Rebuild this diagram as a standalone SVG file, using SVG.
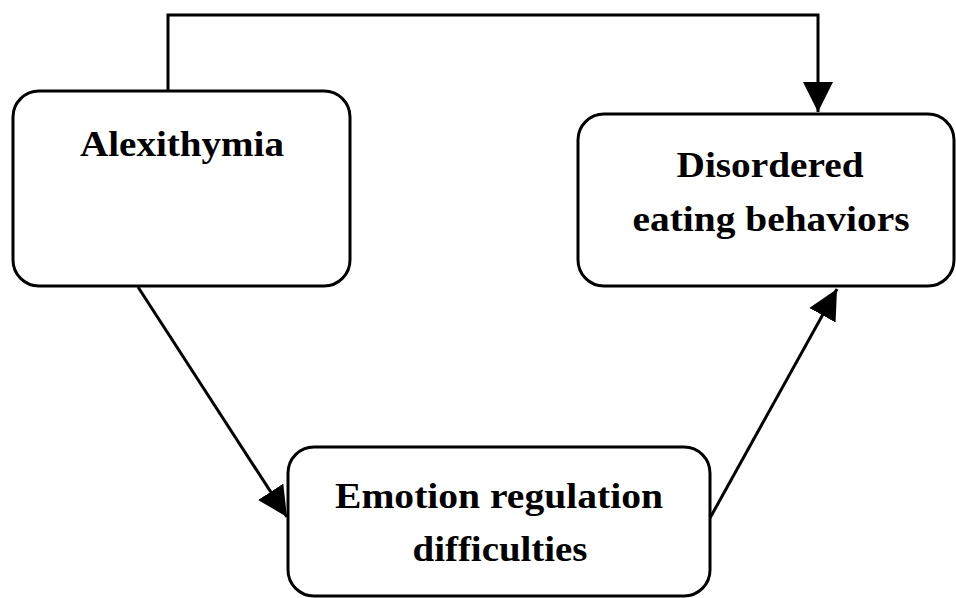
<svg xmlns="http://www.w3.org/2000/svg" width="956" height="598" viewBox="0 0 956 598">
<style>
.box{fill:#fff;stroke:#000;stroke-width:3}
.lbl{font-family:"Liberation Serif","Times New Roman",serif;font-weight:bold;font-size:36px;fill:#000;text-anchor:middle}
.conn{fill:none;stroke:#000;stroke-width:3}
</style>
<defs>
<marker id="ah" markerUnits="userSpaceOnUse" markerWidth="32" markerHeight="32" viewBox="0 0 32 32" refX="30" refY="16" orient="auto">
<path d="M0,1 L30,16 L0,31 z" fill="#000"/>
</marker>
</defs>
<g id="connectors">
<path class="conn" d="M168,91 V15 H818 V112" marker-end="url(#ah)"/>
<path class="conn" d="M138,287 L287,517" marker-end="url(#ah)"/>
<path class="conn" d="M710,518 L837,289" marker-end="url(#ah)"/>
</g>
<g id="alexithymia">
<rect class="box" x="13" y="91" width="337" height="195" rx="26"/>
<text class="lbl" x="182" y="156" textLength="204" lengthAdjust="spacingAndGlyphs">Alexithymia</text>
</g>
<g id="disordered">
<rect class="box" x="578" y="114" width="376" height="172" rx="26"/>
<text class="lbl" x="770" y="177" textLength="187" lengthAdjust="spacingAndGlyphs">Disordered</text>
<text class="lbl" x="771" y="231" textLength="277" lengthAdjust="spacingAndGlyphs">eating behaviors</text>
</g>
<g id="emotion">
<rect class="box" x="288" y="447" width="422" height="149" rx="26"/>
<text class="lbl" x="499" y="508" textLength="328" lengthAdjust="spacingAndGlyphs">Emotion regulation</text>
<text class="lbl" x="500" y="561" textLength="175" lengthAdjust="spacingAndGlyphs">difficulties</text>
</g>
</svg>
